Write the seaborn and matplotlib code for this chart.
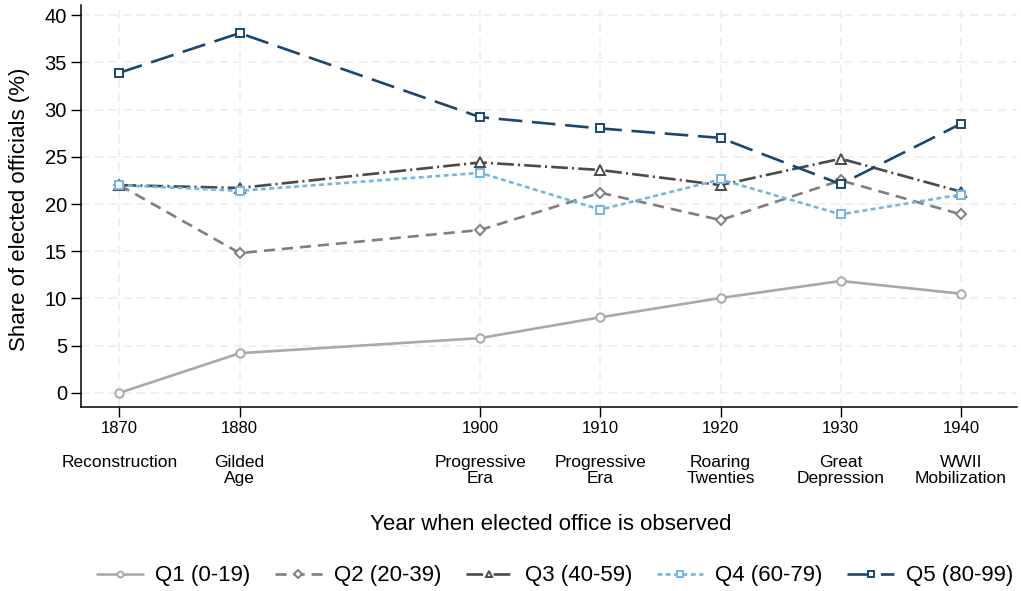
import matplotlib
matplotlib.use("Agg")
import matplotlib.pyplot as plt
import matplotlib.transforms as mtransforms
import seaborn as sns
import pandas as pd

# Election years and the era each belongs to
years = [1870, 1880, 1900, 1910, 1920, 1930, 1940]
eras = ["Reconstruction", "Gilded\nAge", "Progressive\nEra", "Progressive\nEra",
        "Roaring\nTwenties", "Great\nDepression", "WWII\nMobilization"]

# Share of elected officials (%) by quintile
q1 = [0.0, 4.2, 5.8, 8.0, 10.05, 11.85, 10.5]
q2 = [22.0, 14.8, 17.25, 21.2, 18.3, 22.5, 18.9]
q3 = [22.0, 21.7, 24.4, 23.6, 22.0, 24.8, 21.3]
q4 = [22.0, 21.4, 23.3, 19.4, 22.6, 18.9, 21.0]
q5 = [33.9, 38.1, 29.2, 28.0, 27.0, 22.1, 28.5]

series_names = ["Q1 (0-19)", "Q2 (20-39)", "Q3 (40-59)", "Q4 (60-79)", "Q5 (80-99)"]
series_values = [q1, q2, q3, q4, q5]

yticks = [0, 5, 10, 15, 20, 25, 30, 35, 40]

sns.set_style("white")
plt.rcParams["font.family"] = ["Liberation Sans", "DejaVu Sans"]
plt.rcParams["lines.scale_dashes"] = False
for key in ["text.color", "axes.labelcolor", "xtick.color", "ytick.color"]:
    plt.rcParams[key] = "black"

styles = {
    "Q1 (0-19)":  dict(color="#a9a9a9", marker="o", ls="-"),
    "Q2 (20-39)": dict(color="#7f7f7f", marker="D", ls=(0, (8, 5))),
    "Q3 (40-59)": dict(color="#4a4a4a", marker="^", ls=(0, (12, 3, 1.5, 3))),
    "Q4 (60-79)": dict(color="#72b6e6", marker="s", ls=(0, (3.5, 2.5))),
    "Q5 (80-99)": dict(color="#1a476f", marker="s", ls=(0, (17, 7))),
}
msizes = {"o": 6, "D": 5.5, "^": 6.5, "s": 6}

fig = plt.figure(figsize=(10.21, 5.91), dpi=100)
ax = fig.add_axes([0.0793, 0.3113, 0.9167, 0.680])

for name, vals in zip(series_names, series_values):
    st = styles[name]
    df = pd.DataFrame({"year": years, "share": vals})
    sns.lineplot(data=df, x="year", y="share", ax=ax, color=st["color"],
                 linestyle=st["ls"], linewidth=1.9, marker=st["marker"],
                 markersize=msizes[st["marker"]], markerfacecolor="white",
                 markeredgecolor=st["color"], markeredgewidth=1.4,
                 label=name, legend=False)

ax.set_xlim(1866.8, 1944.65)
ax.set_ylim(-1.5, 41.06)
ax.set_xticks(years)
ax.set_xticklabels([str(y) for y in years], fontsize=12)
ax.set_yticks(yticks)
ax.set_yticklabels([str(v) for v in yticks], fontsize=14.5)
ax.tick_params(axis="both", direction="out", length=7, width=1, color="black",
               bottom=True, left=True)
ax.tick_params(axis="x", pad=3)
ax.tick_params(axis="y", pad=3)

ax.grid(True, color="#ececec", linestyle=(0, (6, 4)), linewidth=1.1)
ax.set_axisbelow(True)
for side in ["top", "right"]:
    ax.spines[side].set_visible(False)
for side in ["left", "bottom"]:
    ax.spines[side].set_color("black")
    ax.spines[side].set_linewidth(1.1)

# Era names under the year ticks
trans = mtransforms.blended_transform_factory(ax.transData, fig.transFigure)
for yr, era in zip(years, eras):
    ax.text(yr, 1 - 455 / 591, era, transform=trans, ha="center", va="top",
            fontsize=12.5, linespacing=1.12)

ax.set_xlabel("")
ax.set_ylabel("")
fig.text(20 / 1021, 1 - 209 / 591, "Share of elected officials (%)",
         rotation=90, ha="center", va="center", fontsize=16)
fig.text(551 / 1021, 1 - 525 / 591, "Year when elected office is observed",
         ha="center", va="center", fontsize=16)

handles, labels = ax.get_legend_handles_labels()
fig.legend(handles, labels, loc="center", bbox_to_anchor=(555 / 1021, 1 - 576 / 591),
           ncol=5, frameon=False, fontsize=16, handlelength=2.1,
           columnspacing=1.1, handletextpad=0.55, markerscale=0.7)

fig.savefig("out.png", dpi=100)
